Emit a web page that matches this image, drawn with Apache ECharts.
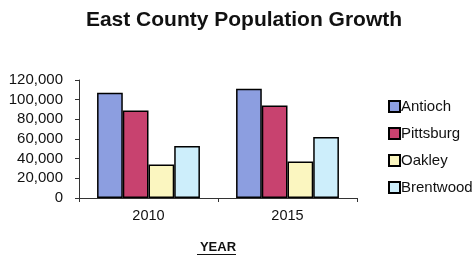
<!DOCTYPE html>
<html><head><meta charset="utf-8">
<script src="https://cdn.jsdelivr.net/npm/echarts@6/dist/echarts.min.js"></script>
<style>html,body{margin:0;padding:0;background:#fff}#c{width:474px;height:257px}</style>
</head><body><div id="c"></div>
<script>
const categories = ['2010', '2015'];
const antioch = [107000, 111000];
const pittsburg = [89000, 94000];
const oakley = [34000, 37000];
const brentwood = [53000, 62000];
const seriesNames = ['Antioch', 'Pittsburg', 'Oakley', 'Brentwood'];
const colors = ['#8c9ee0', '#c8426f', '#fbf6c0', '#cdeefb'];
const values = [antioch, pittsburg, oakley, brentwood];

const chart = echarts.init(document.getElementById('c'), null, {renderer: 'canvas'});
const font = 'Liberation Sans, Arial, sans-serif';
chart.setOption({
  animation: false,
  title: {
    text: 'East County Population Growth', left: 239, top: 5, textAlign: 'center',
    textStyle: {fontFamily: font, fontSize: 21, fontWeight: 'bold', color: '#111'}
  },
  legend: {
    orient: 'vertical', left: 383, top: 94, itemGap: 12, itemWidth: 11, itemHeight: 11,
    icon: 'rect',
    textStyle: {fontFamily: font, fontSize: 15, color: '#111', padding: [0, 0, 0, -4]},
    data: seriesNames
  },
  grid: {left: 79, right: 117, top: 80, bottom: 59},
  xAxis: {
    type: 'category', data: categories,
    axisLine: {lineStyle: {color: '#333', width: 1}},
    axisTick: {show: true, length: 4, lineStyle: {color: '#333'}},
    axisLabel: {fontFamily: font, fontSize: 14.5, color: '#111', margin: 10},
    name: 'YEAR', nameLocation: 'middle', nameGap: 43,
    nameTextStyle: {fontFamily: font, fontSize: 13, fontWeight: 'bold', color: '#111'}
  },
  yAxis: {
    type: 'value', min: 0, max: 120000, interval: 20000,
    axisLine: {show: true, lineStyle: {color: '#333'}},
    axisTick: {show: true, length: 4, lineStyle: {color: '#333'}},
    splitLine: {show: false},
    axisLabel: {fontFamily: font, fontSize: 15, color: '#111', margin: 16,
      formatter: v => v.toLocaleString('en-US')}
  },
  graphic: [{type: 'line', shape: {x1: 197, y1: 254.5, x2: 236, y2: 254.5}, style: {stroke: '#111', lineWidth: 1.2}}],
  series: seriesNames.map((n, i) => ({
    name: n, type: 'bar', data: values[i], barGap: '0%', barCategoryGap: '26%',
    itemStyle: {color: colors[i], borderColor: '#000', borderWidth: 1.5}
  }))
});
</script></body></html>
